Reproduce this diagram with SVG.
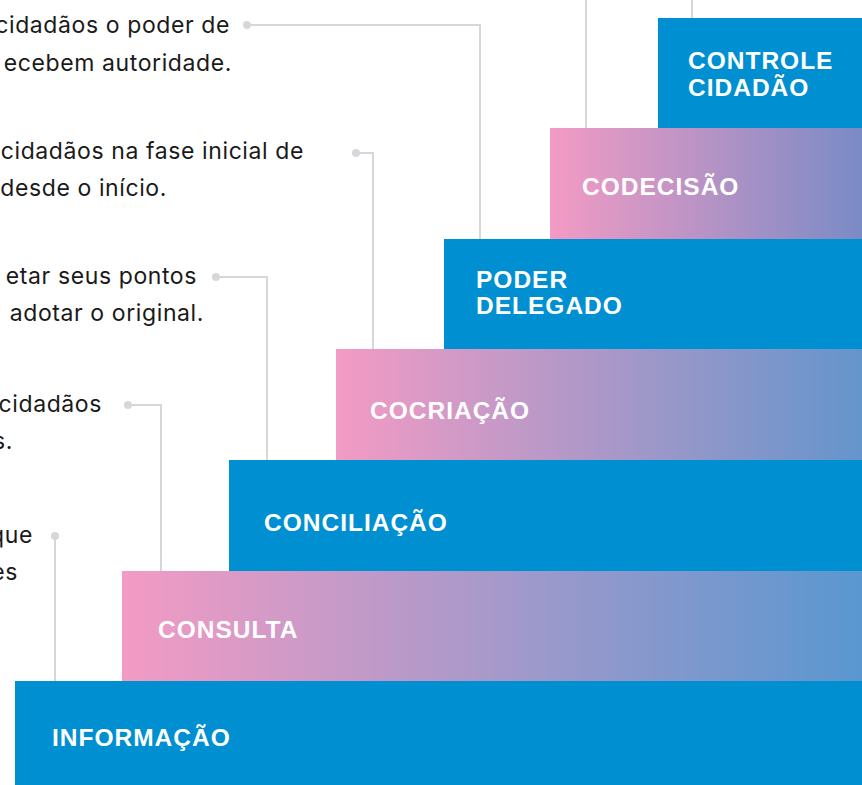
<svg xmlns="http://www.w3.org/2000/svg" width="862" height="785" viewBox="0 0 862 785">
<style>
.step-blue{fill:#0090d2}
.lbl{font-family:"Liberation Sans",Arial,sans-serif;font-weight:bold;font-size:24.5px;fill:#ffffff;letter-spacing:1px}
.body{font-family:Inter,"Noto Sans",sans-serif;font-size:23px;fill:#1a1a1a;text-anchor:end;letter-spacing:0.6px}
.conn{fill:none;stroke:#d5d7da;stroke-width:2}
.dot{fill:#d5d7da}
</style>
<defs>
<linearGradient id="g1" x1="0" y1="0" x2="1" y2="0"><stop offset="0" stop-color="#f39bc4"/><stop offset="1" stop-color="#7a8bc6"/></linearGradient>
<linearGradient id="g2" x1="0" y1="0" x2="1" y2="0"><stop offset="0" stop-color="#f39bc4"/><stop offset="1" stop-color="#6495cc"/></linearGradient>
<linearGradient id="g3" x1="0" y1="0" x2="1" y2="0"><stop offset="0" stop-color="#f39bc4"/><stop offset="1" stop-color="#5a97d0"/></linearGradient>
</defs>
<rect width="862" height="785" fill="#ffffff"/>

<g id="connectors">
<path class="conn" d="M247 25 H480 V239"/>
<path class="conn" d="M356 153 H373 V349"/>
<path class="conn" d="M216 277 H267 V460"/>
<path class="conn" d="M128 405 H161 V571"/>
<path class="conn" d="M55 536 V681"/>
<path class="conn" d="M586 0 V128"/>
<path class="conn" d="M692 0 V18"/>
<circle class="dot" cx="247" cy="25" r="4"/>
<circle class="dot" cx="356" cy="153" r="4"/>
<circle class="dot" cx="216" cy="277" r="4"/>
<circle class="dot" cx="128" cy="405" r="4"/>
<circle class="dot" cx="55" cy="536" r="4"/>
</g>

<g id="desc-1"><text class="body" x="230" y="33">cidadãos o poder de</text><text class="body" x="232" y="71">ecebem autoridade.</text></g>
<g id="desc-2"><text class="body" x="304" y="159">cidadãos na fase inicial de</text><text class="body" x="167" y="196">desde o início.</text></g>
<g id="desc-3"><text class="body" x="197" y="284">etar seus pontos</text><text class="body" x="204" y="321">adotar o original.</text></g>
<g id="desc-4"><text class="body" x="102" y="412">cidadãos</text><text class="body" x="13" y="449">s.</text></g>
<g id="desc-5"><text class="body" x="33" y="543">que</text><text class="body" x="18" y="580">es</text></g>

<g id="controle-cidadao"><rect class="step-blue" x="658" y="18" width="204" height="110"/><text class="lbl" x="688" y="69">CONTROLE</text><text class="lbl" x="688" y="96">CIDADÃO</text></g>
<g id="codecisao"><rect x="550" y="128" width="312" height="111" fill="url(#g1)"/><text class="lbl" x="582" y="195">CODECISÃO</text></g>
<g id="poder-delegado"><rect class="step-blue" x="444" y="239" width="418" height="110"/><text class="lbl" x="476" y="288">PODER</text><text class="lbl" x="476" y="314">DELEGADO</text></g>
<g id="cocriacao"><rect x="336" y="349" width="526" height="111" fill="url(#g2)"/><text class="lbl" x="370" y="419">COCRIAÇÃO</text></g>
<g id="conciliacao"><rect class="step-blue" x="229" y="460" width="633" height="111" /><text class="lbl" x="264" y="531">CONCILIAÇÃO</text></g>
<g id="consulta"><rect x="122" y="571" width="740" height="110" fill="url(#g3)"/><text class="lbl" x="158" y="638">CONSULTA</text></g>
<g id="informacao"><rect class="step-blue" x="15" y="681" width="847" height="104"/><text class="lbl" x="52" y="746">INFORMAÇÃO</text></g>
</svg>
